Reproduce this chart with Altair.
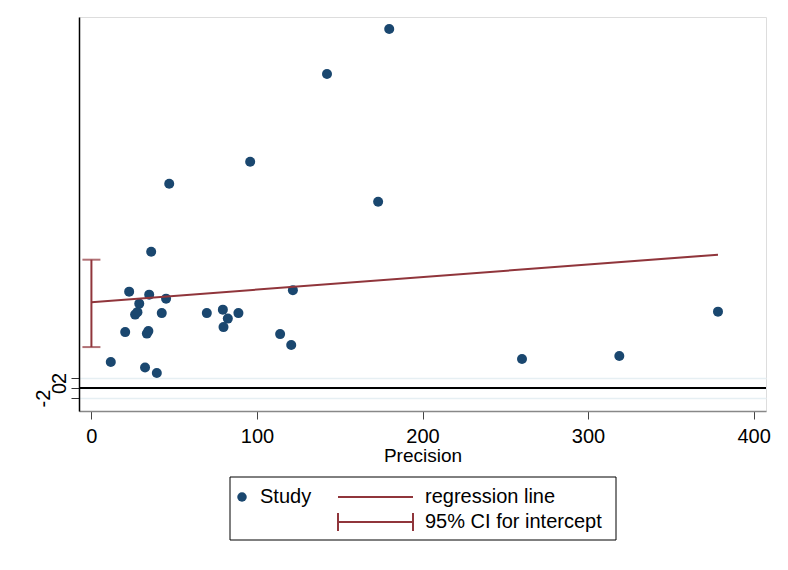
import altair as alt
import pandas as pd

# Study data
precision = [179.9, 142.3, 95.9, 47.0, 173.2, 36.1, 22.8, 34.9, 45.1, 28.9,
             26.4, 27.8, 42.5, 69.7, 79.4, 88.8, 82.4, 79.8, 20.4, 34.4,
             33.5, 114.0, 120.7, 11.7, 32.4, 39.5, 121.7, 260.1, 318.9, 378.5]
std_effect = [71.9, 62.9, 45.3, 40.9, 37.3, 27.3, 19.3, 18.7, 17.9, 16.9,
              14.7, 15.2, 15.0, 15.0, 15.7, 15.0, 13.9, 12.2, 11.2, 11.4,
              10.9, 10.8, 8.6, 5.2, 4.1, 3.0, 19.6, 5.8, 6.4, 15.3]

reg_x = [0, 378.5]
reg_y = [17.2, 26.7]
ci_x = [0]
ci_low = [8.2]
ci_high = [25.7]

x_ticks = [0, 100, 200, 300, 400]
y_ticks = [-2, 0, 2]

W, H = 687, 394
NAVY = "#1a476f"
MAROON = "#90353b"
FONT = "Liberation Sans"

pts = pd.DataFrame({"precision": precision, "std_effect": std_effect})
reg = pd.DataFrame({"precision": reg_x, "std_effect": reg_y})
ci = pd.DataFrame({"precision": ci_x, "low": ci_low, "high": ci_high})

xs = alt.Scale(domain=[-7.5, 407.5], nice=False, zero=False)
ys = alt.Scale(domain=[-4.6, 74.3], nice=False, zero=False)

x_axis = alt.Axis(values=x_ticks, title="Precision", grid=False,
                  labelFontSize=20, titleFontSize=19, labelFont=FONT, titleFont=FONT,
                  titleFontWeight="normal",
                  labelColor="black", titleColor="black", tickColor="#444",
                  domainColor="#888", domainWidth=1.5, tickSize=8, labelPadding=7,
                  titlePadding=0)
y_axis = alt.Axis(values=y_ticks, title=None, grid=True, gridColor="#e6eff3",
                  gridWidth=1.5, labelAngle=-90, labelFontSize=20, labelFont=FONT,
                  labelColor="black", labelOverlap=False, tickColor="#333",
                  labelExpr="'' + datum.value",
                  tickSize=8, domainColor="black", domainWidth=1.5,
                  labelPadding=alt.expr("datum.value == -2 ? 18 : 2"),
                  labelAlign="center", labelBaseline="bottom")

points = alt.Chart(pts).mark_circle(size=100, color=NAVY, opacity=1).encode(
    x=alt.X("precision:Q", scale=xs, axis=x_axis),
    y=alt.Y("std_effect:Q", scale=ys, axis=y_axis),
)

zero = alt.Chart(pd.DataFrame({"v": [0]})).mark_rule(color="black", strokeWidth=2).encode(
    y=alt.Y("v:Q", scale=ys, axis=y_axis)
)

line = alt.Chart(reg).mark_line(color=MAROON, strokeWidth=2).encode(
    x=alt.X("precision:Q", scale=xs), y=alt.Y("std_effect:Q", scale=ys)
)

ci_rule = alt.Chart(ci).mark_rule(color=MAROON, strokeWidth=2).encode(
    x=alt.X("precision:Q", scale=xs), y=alt.Y("low:Q", scale=ys), y2="high:Q"
)
ci_cap_lo = alt.Chart(ci).mark_tick(color=MAROON, orient="horizontal", size=18, thickness=2).encode(
    x=alt.X("precision:Q", scale=xs), y=alt.Y("low:Q", scale=ys)
)
ci_cap_hi = alt.Chart(ci).mark_tick(color=MAROON, orient="horizontal", size=18, thickness=2).encode(
    x=alt.X("precision:Q", scale=xs), y=alt.Y("high:Q", scale=ys)
)

# Legend (drawn below the plot, pixel layout)
one = pd.DataFrame({"a": [1]})
LX0, LX1, LY0, LY1 = 151, 537, 460, 523
R1, R2 = 480, 505
box = alt.Chart(one).mark_rect(fill="white", stroke="black", strokeWidth=1).encode(
    x=alt.value(LX0), x2=alt.value(LX1), y=alt.value(LY0), y2=alt.value(LY1)
)
leg_pt = alt.Chart(one).mark_circle(size=90, color=NAVY, opacity=1).encode(
    x=alt.value(163), y=alt.value(R1)
)
leg_line = alt.Chart(one).mark_rule(color=MAROON, strokeWidth=2).encode(
    x=alt.value(259), x2=alt.value(334), y=alt.value(R1)
)
leg_ci = alt.Chart(one).mark_rule(color=MAROON, strokeWidth=2).encode(
    x=alt.value(259), x2=alt.value(334), y=alt.value(R2)
)
leg_cap1 = alt.Chart(one).mark_rule(color=MAROON, strokeWidth=2).encode(
    x=alt.value(259), y=alt.value(496), y2=alt.value(514)
)
leg_cap2 = alt.Chart(one).mark_rule(color=MAROON, strokeWidth=2).encode(
    x=alt.value(334), y=alt.value(496), y2=alt.value(514)
)
def txt(s, x, y):
    return alt.Chart(one).mark_text(text=s, align="left", baseline="middle",
                                    fontSize=20, font=FONT, color="black").encode(
        x=alt.value(x), y=alt.value(y))

chart = alt.layer(
    points, zero, line, ci_rule, ci_cap_lo, ci_cap_hi,
    box, leg_pt, leg_line, leg_ci, leg_cap1, leg_cap2,
    txt("Study", 181, R1), txt("regression line", 346, R1),
    txt("95% CI for intercept", 346, R2),
).properties(
    width=W, height=H,
    autosize=alt.AutoSizeParams(type="none"),
    padding={"left": 71, "top": 9, "right": 14, "bottom": 151},
).configure_view(stroke=None).configure(background="white")

chart.save("out.html", embed_options={"renderer": "svg", "actions": False})
